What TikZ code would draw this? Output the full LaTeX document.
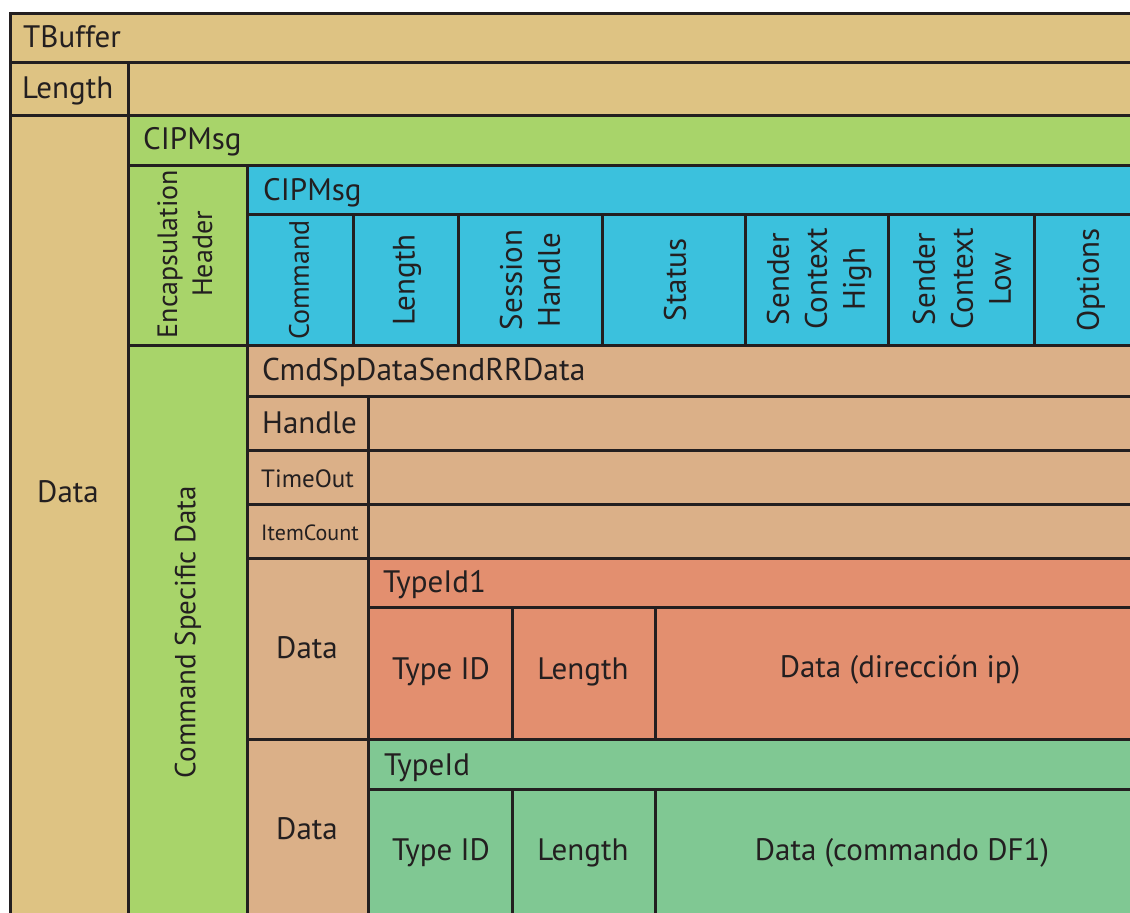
\documentclass[tikz,border=0pt]{standalone}
\usepackage{fontspec}
\setmainfont{PT Sans}
\definecolor{ink}{RGB}{35,31,32}
\definecolor{tbuf}{RGB}{222,195,131}
\definecolor{cipgreen}{RGB}{168,212,106}
\definecolor{cipblue}{RGB}{59,193,221}
\definecolor{cmdtan}{RGB}{219,176,136}
\definecolor{salmon}{RGB}{227,143,111}
\definecolor{mint}{RGB}{128,200,147}

% a filled, outlined cell spanning (x1,y1)-(x2,y2)
\newcommand\cellbox[6]{%
  \node[cell, fill=#6, minimum width={(#4-#2)*1pt}, minimum height={(#5-#3)*1pt}] (#1) at (#2,#3) {};}

\tikzset{
  cell/.style={draw=ink, line width=3pt, rectangle, inner sep=0pt, outer sep=0pt, anchor=north west},
  big/.style={font=\fontsize{31}{38}\selectfont},
  lbl/.style={anchor=base west, inner sep=0pt, text=ink, big},
  ctr/.style={inner sep=0pt, text=ink, align=center, big},
  vert/.style={ctr, rotate=90},
}

\begin{document}
\begin{tikzpicture}[x=1pt,y=-1pt]
\useasboundingbox (0,0) rectangle (1130,913);
\clip (0,0) rectangle (1130,913);

% TBuffer frame
\cellbox{tbuffer}{10}{13}{1145}{62}{tbuf}
\cellbox{lenlab}{10}{62}{128}{115}{tbuf}
\cellbox{lenval}{128}{62}{1145}{115}{tbuf}
\cellbox{datalab}{10}{115}{128}{935}{tbuf}

% CIP message and encapsulation header
\cellbox{cipg}{128}{115}{1145}{165}{cipgreen}
\cellbox{encap}{128}{165}{247}{345}{cipgreen}
\cellbox{cipb}{247}{165}{1145}{214}{cipblue}
\cellbox{fcmd}{247}{214}{353}{345}{cipblue}
\cellbox{flen}{353}{214}{458}{345}{cipblue}
\cellbox{fses}{458}{214}{602}{345}{cipblue}
\cellbox{fsta}{602}{214}{745}{345}{cipblue}
\cellbox{fsch}{745}{214}{888}{345}{cipblue}
\cellbox{fscl}{888}{214}{1034}{345}{cipblue}
\cellbox{fopt}{1034}{214}{1145}{345}{cipblue}

% command specific data
\cellbox{csd}{128}{345}{247}{935}{cipgreen}
\cellbox{cmdsp}{247}{345}{1145}{396}{cmdtan}
\cellbox{hlab}{247}{396}{368}{450}{cmdtan}
\cellbox{hval}{368}{396}{1145}{450}{cmdtan}
\cellbox{tlab}{247}{450}{368}{504}{cmdtan}
\cellbox{tval}{368}{450}{1145}{504}{cmdtan}
\cellbox{ilab}{247}{504}{368}{558}{cmdtan}
\cellbox{ival}{368}{504}{1145}{558}{cmdtan}

% first item
\cellbox{d1lab}{247}{558}{368}{739}{cmdtan}
\cellbox{tid1}{368}{558}{1145}{607}{salmon}
\cellbox{r1}{368}{607}{512}{739}{salmon}
\cellbox{r2}{512}{607}{655}{739}{salmon}
\cellbox{r3}{655}{607}{1145}{739}{salmon}

% second item
\cellbox{d2lab}{247}{739}{368}{935}{cmdtan}
\cellbox{tid2}{368}{739}{1145}{789}{mint}
\cellbox{g1}{368}{789}{512}{935}{mint}
\cellbox{g2}{512}{789}{655}{935}{mint}
\cellbox{g3}{655}{789}{1145}{935}{mint}

% labels
\node[lbl] (tTB) at (23,47) {TBuffer};
\node[lbl] (tLen) at (22,98) {Length};
\node[ctr] (tData) at (68,492) {Data};
\node[lbl] (tCipG) at (143,149) {CIPMsg};
\node[lbl] (tCipB) at (263,200) {CIPMsg};
\node[vert, font=\fontsize{28}{35}\selectfont] (tEnc) at (185,254) {Encapsulation\\Header};
\node[vert, font=\fontsize{28}{34}\selectfont] (tCmd) at (299,280) {Command};
\node[vert] (tFLen) at (407,280) {Length};
\node[vert] (tSes) at (530,280) {Session\\Handle};
\node[vert] (tSta) at (675,280) {Status};
\node[vert] (tSch) at (819,279) {Sender\\Context\\High};
\node[vert] (tScl) at (962,279) {Sender\\Context\\Low};
\node[vert] (tOpt) at (1091,280) {Options};
\node[vert, font=\fontsize{29}{34}\selectfont] (tCsd) at (188,632) {Command Specific Data};
\node[lbl, font=\fontsize{31.5}{38}\selectfont] (tCmdSp) at (262,380) {CmdSpDataSendRRData};
\node[lbl] (tHan) at (262,433) {Handle};
\node[lbl, font=\fontsize{25}{30}\selectfont] (tTim) at (261,487) {TimeOut};
\node[lbl, font=\fontsize{22}{26}\selectfont] (tItm) at (261,540) {ItemCount};
\node[ctr] (tD1) at (307,648) {Data};
\node[lbl] (tTid1) at (383,592) {TypeId1};
\node[ctr] (tR1) at (441,672) {Type ID};
\node[ctr] (tR2) at (583,672) {Length};
\node[ctr] (tR3) at (900,670) {Data (dirección ip)};
\node[ctr] (tD2) at (307,829) {Data};
\node[lbl] (tTid2) at (384,775) {TypeId};
\node[ctr] (tG1) at (441,853) {Type ID};
\node[ctr] (tG2) at (583,853) {Length};
\node[ctr] (tG3) at (902,853) {Data (commando DF1)};
\end{tikzpicture}
\end{document}
